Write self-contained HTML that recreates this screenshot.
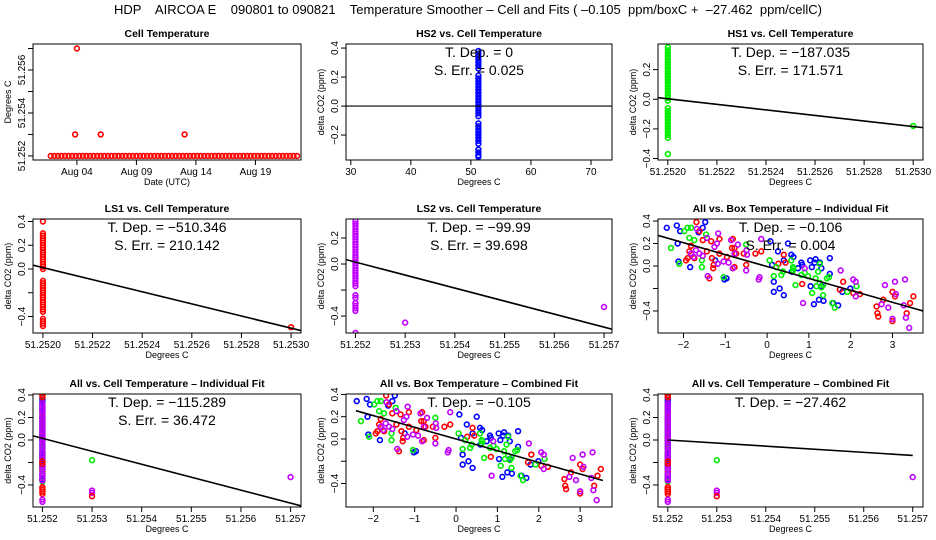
<!DOCTYPE html>
<html><head><meta charset="utf-8"><style>
body{margin:0;background:#fff}
svg{display:block;font-family:"Liberation Sans",sans-serif}
</style></head><body>
<svg id="c" width="936" height="540" viewBox="0 0 936 540" xmlns="http://www.w3.org/2000/svg">
<rect width="936" height="540" fill="#fff"/>
<text x="468" y="14" text-anchor="middle" font-size="13" style="white-space:pre">HDP    AIRCOA E    090801 to 090821    Temperature Smoother – Cell and Fits ( –0.105  ppm/boxC +  –27.462  ppm/cellC)</text>
</svg>
<script>
// ---- Panel 1 data (day of August, cell temperature) ----
const cellTimes = [1.8,2.1,2.4,2.7,3.0,3.3,3.6,3.9,4.2,4.5,4.8,5.1,5.4,5.7,6.0,6.3,6.6,6.9,7.2,7.5,7.8,8.1,8.4,8.7,9.0,9.3,9.6,9.9,10.2,10.5,10.8,11.1,11.4,11.7,12.0,12.3,12.6,12.9,13.2,13.5,13.8,14.1,14.4,14.7,15.0,15.3,15.6,15.9,16.2,16.5,16.8,17.1,17.4,17.7,18.0,18.3,18.6,18.9,19.2,19.5,19.8,20.1,20.4,20.7,21.0,21.3,21.6,21.9,22.2,22.5];
const cellTemps = [51.252,51.252,51.252,51.252,51.252,51.252,51.252,51.252,51.252,51.252,51.252,51.252,51.252,51.252,51.252,51.252,51.252,51.252,51.252,51.252,51.252,51.252,51.252,51.252,51.252,51.252,51.252,51.252,51.252,51.252,51.252,51.252,51.252,51.252,51.252,51.252,51.252,51.252,51.252,51.252,51.252,51.252,51.252,51.252,51.252,51.252,51.252,51.252,51.252,51.252,51.252,51.252,51.252,51.252,51.252,51.252,51.252,51.252,51.252,51.252,51.252,51.252,51.252,51.252,51.252,51.252,51.252,51.252,51.252,51.252];
const cellSpikeTimes = [3.85,4.0,6.0,13.05];
const cellSpikeTemps = [51.2530,51.2570,51.2530,51.2530];
const dateTicks = [4,9,14,19];
const dateTickLabels = ["Aug 04","Aug 09","Aug 14","Aug 19"];

// ---- Column data at cell temperature ----
const hs2Y = [0.38,0.36,0.34,0.32,0.30,0.28,0.26,0.21,0.19,0.17,0.15,0.13,0.11,0.09,0.07,0.05,0.03,0.01,-0.01,-0.03,-0.05,-0.07,-0.12,-0.14,-0.16,-0.18,-0.20,-0.22,-0.24,-0.26,-0.30,-0.32,-0.34,-0.35];
const hs1Y = [0.35,0.33,0.31,0.29,0.27,0.25,0.23,0.21,0.19,0.17,0.15,0.13,0.11,0.09,0.07,0.05,0.03,0.01,-0.01,-0.06,-0.08,-0.10,-0.12,-0.14,-0.16,-0.18,-0.20,-0.22,-0.24,-0.26,-0.37];
const hs1OutX = [51.2530];
const hs1OutY = [-0.18];
const ls1Y = [0.40,0.30,0.28,0.26,0.24,0.22,0.20,0.18,0.16,0.14,0.12,0.10,0.08,0.06,0.04,0.02,0.0,-0.10,-0.12,-0.14,-0.16,-0.18,-0.20,-0.22,-0.24,-0.26,-0.28,-0.30,-0.32,-0.34,-0.36,-0.42,-0.44,-0.46,-0.48];
const ls1OutX = [51.2530];
const ls1OutY = [-0.49];
const ls2Y = [0.33,0.31,0.29,0.27,0.25,0.23,0.21,0.19,0.17,0.15,0.13,0.11,0.09,0.07,0.05,0.03,0.01,-0.01,-0.03,-0.05,-0.07,-0.09,-0.11,-0.13,-0.15,-0.17,-0.24,-0.26,-0.30,-0.32,-0.34,-0.36,-0.53];
const ls2OutX = [51.253,51.257];
const ls2OutY = [-0.45,-0.33];
const allExtraX = [51.253,51.253,51.253,51.253,51.257,51.252];
const allExtraY = [-0.18,-0.45,-0.47,-0.50,-0.33,-0.55];
const allExtraC = ["#00ee00","#c000ff","#c000ff","#ff0000","#c000ff","#c000ff"];
const allRedY = [0.40,0.38,-0.19,-0.21,-0.42,-0.44,-0.46];

// ---- Box temperature scatter data ----
const blueX = [-2.40,-2.16,-2.08,-2.14,-2.12,-1.84,-1.48,-1.54,-1.64,-1.02,-1.24,-0.97,0.08,0.12,0.26,0.40,0.58,0.16,0.30,0.40,0.16,0.59,0.74,0.82,1.03,1.07,1.04,1.14,1.16,1.26,1.30,1.50,1.50,1.30,1.35,1.24,1.12,1.58,1.70,1.80,1.99,0.84,0.50,0.63];
const blueY = [0.34,0.36,0.31,0.20,0.04,-0.01,0.39,0.34,0.30,-0.12,0.05,-0.11,0.22,0.01,0.13,0.05,0.10,-0.14,-0.20,-0.26,-0.23,-0.05,-0.02,0.03,0.05,-0.01,-0.18,0.03,0.06,0.03,-0.02,0.07,-0.07,-0.18,-0.31,-0.30,-0.34,-0.33,-0.35,-0.23,-0.20,0.01,0.20,0.08];
const redX = [-1.69,-1.62,-1.86,-1.90,-1.54,-1.34,-1.32,-1.14,-1.14,-1.29,-1.28,-0.82,-0.84,-0.78,-0.56,-0.50,-0.28,-0.14,0.40,0.44,0.27,0.84,1.74,1.82,2.06,2.22,2.62,2.66,2.78,3.00,3.00,3.06,3.34,3.42,3.50,2.64,-1.94,-1.82,-1.74,-1.44,-0.96,-0.78,-0.74,-1.38];
const redY = [0.39,0.31,0.13,0.07,0.23,0.22,0.07,0.11,0.24,-0.02,0.01,0.24,0.16,-0.01,0.11,0.01,0.11,0.13,0.10,0.03,0.02,-0.16,-0.21,-0.14,-0.24,-0.25,-0.36,-0.45,-0.30,-0.23,-0.49,-0.27,-0.42,-0.33,-0.27,-0.42,0.05,0.18,0.07,0.13,0.08,0.16,0.11,-0.11];
const greenX = [-2.30,-1.98,-1.90,-1.82,-2.10,-1.46,-1.56,-1.56,-1.04,-0.50,0.06,0.22,0.16,0.34,0.38,0.58,0.62,0.63,0.68,0.82,0.90,0.98,1.16,1.22,1.26,1.30,1.34,1.43,1.48,1.56,1.62,1.08,1.34,1.26,1.18,-1.86,-1.74,0.62,2.14,1.92];
const greenY = [0.16,0.31,0.34,0.34,0.02,0.28,-0.01,0.05,-0.10,0.19,0.05,-0.01,-0.09,-0.08,-0.05,0.05,-0.01,-0.02,-0.17,-0.08,-0.06,-0.09,-0.11,-0.05,0.02,-0.19,-0.17,-0.11,-0.10,-0.33,-0.37,-0.24,-0.26,-0.15,-0.18,0.25,0.23,-0.04,-0.18,-0.23];
const magX = [-1.68,-1.44,-1.17,-1.20,-1.26,-1.76,-1.70,-1.62,-1.54,-1.82,-0.86,-0.70,-0.49,-0.50,-0.48,-0.92,-1.42,-1.18,-0.78,-0.18,-0.20,-0.14,0.86,1.76,2.12,2.12,2.82,3.06,3.30,3.08,2.90,2.74,3.00,3.32,3.40,3.27,-1.04,-0.82,0.90,2.06];
const magY = [0.33,0.25,0.29,0.20,0.17,0.08,0.14,0.11,0.09,0.11,0.23,0.19,0.14,-0.04,0.10,0.03,-0.09,0.02,0.11,-0.10,-0.12,0.24,-0.33,-0.04,-0.14,-0.27,-0.17,-0.14,-0.12,-0.25,-0.37,-0.34,-0.47,-0.46,-0.55,-0.35,0.04,-0.02,-0.02,-0.12];

// ---- Fits ----
const fitSlopes = {hs2:0, hs1:-187.035, ls1:-510.346, ls2:-99.99, boxInd:-0.106, allInd:-115.289, boxComb:-0.105, allComb:-27.462};

const svg = document.getElementById('c');
const NS = 'http://www.w3.org/2000/svg';
function mk(tag, attrs, parent){const e=document.createElementNS(NS,tag);for(const k in attrs)e.setAttribute(k,attrs[k]);(parent||svg).appendChild(e);return e;}
const BLUE='#0000ff', RED='#ff0000', GREEN='#00ee00', MAG='#c000ff';

function panel(o){
  const g = mk('g',{});
  
  
  const b=o.box;
  const sx=v=>b.l+(v-o.xlim[0])/(o.xlim[1]-o.xlim[0])*(b.r-b.l);
  const sy=v=>b.b-(v-o.ylim[0])/(o.ylim[1]-o.ylim[0])*(b.b-b.t);
  const t = mk('text',{x:(b.l+b.r)/2,y:b.t-7,'text-anchor':'middle','font-size':10.5,'font-weight':'bold'},g);
  t.textContent=o.title;
  
  
  const cid='clip'+o.name;
  const cp=mk('clipPath',{id:cid},g); mk('rect',{x:b.l,y:b.t,width:b.r-b.l,height:b.b-b.t},cp);
  const pg=mk('g',{'clip-path':'url(#'+cid+')'},g);
  (o.series||[]).forEach(s=>{
    s.xs.forEach((xv,i)=>{
      const c=mk('circle',{cx:sx(xv),cy:sy(s.ys[i]),r:2.4,fill:'none',stroke:Array.isArray(s.color)?s.color[i]:s.color,'stroke-width':1.6},pg);
      
      
    });
  });
  if(o.fit){
    const f=o.fit; const x1=f.from!==undefined?f.from:o.xlim[0], x2=f.to!==undefined?f.to:o.xlim[1];
    const ln=mk('line',{x1:sx(x1),y1:sy(f.a+f.slope*(x1-f.x0)),x2:sx(x2),y2:sy(f.a+f.slope*(x2-f.x0)),stroke:'#000','stroke-width':o.fitW||1.6},pg);
    
    
  }
  const r=mk('rect',{x:b.l,y:b.t,width:b.r-b.l,height:b.b-b.t,fill:'none',stroke:'#000','stroke-width':1},g);
  
  
  const xa=mk('g',{},g);
  
  
  o.xticks.forEach((v,i)=>{
    const px=sx(v);
    mk('line',{x1:px,y1:b.b,x2:px,y2:b.b+5,stroke:'#000'},xa);
    const tl=mk('text',{x:px,y:b.b+15,'text-anchor':'middle','font-size':10},xa);
    tl.textContent=o.xlabels[i];
  });
  const xt=mk('text',{x:(b.l+b.r)/2,y:b.b+25,'text-anchor':'middle','font-size':9},g);
  xt.textContent=o.xtitle;
  
  
  const ya=mk('g',{},g);
  
  
  o.yticks.forEach((v,i)=>{
    const py=sy(v);
    mk('line',{x1:b.l-5,y1:py,x2:b.l,y2:py,stroke:'#000'},ya);
    if(o.ylabels[i]!==null){
      const tl=mk('text',{x:0,y:0,'text-anchor':'middle','font-size':10,transform:`translate(${b.l-8},${py}) rotate(-90)`},ya);
      tl.textContent=o.ylabels[i];
    }
  });
  const ytt=mk('text',{x:0,y:0,'text-anchor':'middle','font-size':9,transform:`translate(${b.l-22},${(b.t+b.b)/2}) rotate(-90)`},g);
  ytt.textContent=o.ytitle;
  
  
  (o.notes||[]).forEach((n,i)=>{
    const tx=mk('text',{x:(b.l+b.r)/2,y:b.t+13+i*18,'text-anchor':'middle','font-size':14},g);
    tx.textContent=n;
    
    
  });
  return {sx,sy,g};
}
function col(v,n){return new Array(n).fill(v);}
const C1={l:33,r:301}, C2={l:346,r:612}, C3={l:658,r:923};
const R1={t:44,b:160}, R2={t:219,b:333}, R3={t:394,b:507};
const B=(c,r)=>({l:c.l,r:c.r,t:r.t,b:r.b});
const yl='delta CO2 (ppm)', xl='Degrees C';
const cellX4=[51.2520,51.2522,51.2524,51.2526,51.2528,51.2530];
const cellX4L=['51.2520','51.2522','51.2524','51.2526','51.2528','51.2530'];
const cellX3=[51.252,51.253,51.254,51.255,51.256,51.257];
const cellX3L=['51.252','51.253','51.254','51.255','51.256','51.257'];
const yT=[-0.4,-0.2,0,0.2,0.4], yTL=['−0.4',null,'0.0','0.2','0.4'];

panel({name:'cell-temperature-panel',box:B(C1,R1),xlim:[0.31,22.83],ylim:[51.25181,51.25721],title:'Cell Temperature',
  xticks:dateTicks,xlabels:dateTickLabels,yticks:[51.252,51.253,51.254,51.255,51.256,51.257],ylabels:['51.252',null,'51.254',null,'51.256',null],
  xtitle:'Date (UTC)',ytitle:'Degrees C',series:[{xs:cellTimes,ys:cellTemps,color:RED},{xs:cellSpikeTimes,ys:cellSpikeTemps,color:RED}]});

panel({name:'hs2-panel',box:B(C2,R1),xlim:[29.2,73.5],ylim:[-0.372,0.428],title:'HS2 vs. Cell Temperature',
  xticks:[30,40,50,60,70],xlabels:['30','40','50','60','70'],yticks:[-0.2,0,0.2,0.4],ylabels:['−0.2','0.0','0.2','0.4'],
  xtitle:xl,ytitle:yl,series:[{xs:col(51.252,hs2Y.length),ys:hs2Y,color:BLUE}],fit:{a:0,slope:fitSlopes.hs2,x0:51.252},fitW:1.2,
  notes:['T. Dep. =  0','S. Err. =  0.025']});

panel({name:'hs1-panel',box:B(C3,R1),xlim:[51.25196,51.25304],ylim:[-0.41,0.373],title:'HS1 vs. Cell Temperature',
  xticks:cellX4,xlabels:cellX4L,yticks:[-0.4,-0.2,0,0.2],ylabels:['−0.4','−0.2','0.0','0.2'],
  xtitle:xl,ytitle:yl,series:[{xs:col(51.2520,hs1Y.length),ys:hs1Y,color:GREEN},{xs:hs1OutX,ys:hs1OutY,color:GREEN}],
  fit:{a:0.003,slope:fitSlopes.hs1,x0:51.2520},notes:['T. Dep. =  −187.035','S. Err. =  171.571']});

panel({name:'ls1-panel',box:B(C1,R2),xlim:[51.25196,51.25304],ylim:[-0.539,0.421],title:'LS1 vs. Cell Temperature',
  xticks:cellX4,xlabels:cellX4L,yticks:yT,ylabels:yTL,
  xtitle:xl,ytitle:yl,series:[{xs:col(51.2520,ls1Y.length),ys:ls1Y,color:RED},{xs:ls1OutX,ys:ls1OutY,color:RED}],
  fit:{a:0.012,slope:fitSlopes.ls1,x0:51.2520},notes:['T. Dep. =  −510.346','S. Err. =  210.142']});

panel({name:'ls2-panel',box:B(C2,R2),xlim:[51.25181,51.25716],ylim:[-0.53,0.346],title:'LS2 vs. Cell Temperature',
  xticks:cellX3,xlabels:cellX3L,yticks:[-0.4,-0.2,0,0.2],ylabels:['−0.4',null,'0.0','0.2'],
  xtitle:xl,ytitle:yl,series:[{xs:col(51.252,ls2Y.length),ys:ls2Y,color:MAG},{xs:ls2OutX,ys:ls2OutY,color:MAG}],
  fit:{a:0.015,slope:fitSlopes.ls2,x0:51.252},notes:['T. Dep. =  −99.99','S. Err. =  39.698']});

const boxSeries=[{xs:blueX,ys:blueY,color:BLUE},{xs:redX,ys:redY,color:RED},{xs:greenX,ys:greenY,color:GREEN},{xs:magX,ys:magY,color:MAG}];
panel({name:'box-individual-panel',box:B(C3,R2),xlim:[-2.61,3.73],ylim:[-0.596,0.418],title:'All vs. Box Temperature – Individual Fit',
  xticks:[-2,-1,0,1,2,3],xlabels:['−2','−1','0','1','2','3'],yticks:yT,ylabels:yTL,
  xtitle:xl,ytitle:yl,series:boxSeries,fit:{a:-0.005,slope:fitSlopes.boxInd,x0:0},notes:['T. Dep. =  −0.106','S. Err. =  0.004']});

const allSeries=[{xs:col(51.252,ls1Y.length),ys:ls1Y,color:RED},{xs:col(51.252,hs1Y.length),ys:hs1Y,color:GREEN},{xs:col(51.252,hs2Y.length),ys:hs2Y,color:BLUE},{xs:col(51.252,ls2Y.length),ys:ls2Y,color:MAG},{xs:col(51.252,allRedY.length),ys:allRedY,color:RED},{xs:allExtraX,ys:allExtraY,color:allExtraC}];
panel({name:'cell-individual-panel',box:B(C1,R3),xlim:[51.25181,51.25721],ylim:[-0.596,0.409],title:'All vs. Cell Temperature – Individual Fit',
  xticks:cellX3,xlabels:cellX3L,yticks:yT,ylabels:yTL,
  xtitle:xl,ytitle:yl,series:allSeries,fit:{a:0.015,slope:fitSlopes.allInd,x0:51.252},notes:['T. Dep. =  −115.289','S. Err. =  36.472']});

panel({name:'box-combined-panel',box:B(C2,R3),xlim:[-2.66,3.77],ylim:[-0.611,0.404],title:'All vs. Box Temperature – Combined Fit',
  xticks:[-2,-1,0,1,2,3],xlabels:['−2','−1','0','1','2','3'],yticks:yT,ylabels:yTL,
  xtitle:xl,ytitle:yl,series:boxSeries,fit:{a:0.0,slope:fitSlopes.boxComb,x0:0,from:-2.42,to:3.55},notes:['T. Dep. =  −0.105']});

panel({name:'cell-combined-panel',box:B(C3,R3),xlim:[51.2518,51.25721],ylim:[-0.596,0.409],title:'All vs. Cell Temperature – Combined Fit',
  xticks:cellX3,xlabels:cellX3L,yticks:yT,ylabels:yTL,
  xtitle:xl,ytitle:yl,series:allSeries,fit:{a:0.0,slope:fitSlopes.allComb,x0:51.252,from:51.252,to:51.257},notes:['T. Dep. =  −27.462']});
</script>
</body></html>
